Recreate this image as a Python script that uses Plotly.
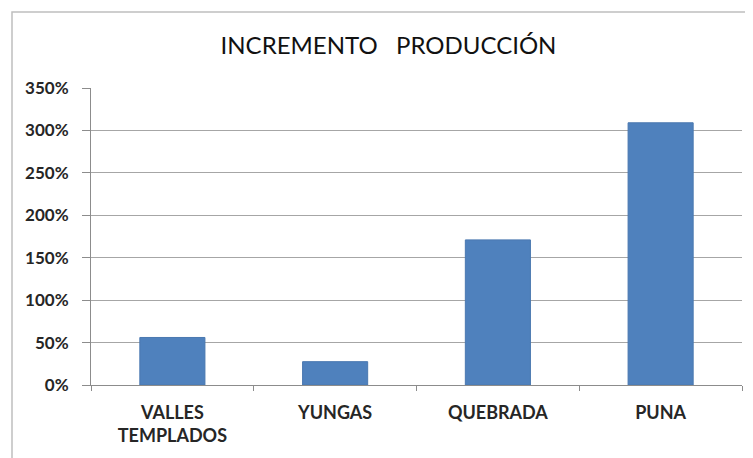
import plotly.graph_objects as go

categories = ["VALLES<br>TEMPLADOS", "YUNGAS", "QUEBRADA", "PUNA"]
values = [0.56, 0.275, 1.71, 3.09]
y_ticks = [0, 0.5, 1.0, 1.5, 2.0, 2.5, 3.0, 3.5]
title_text = "INCREMENTO\u00a0\u00a0 PRODUCCIÓN"

# page has an 8px body margin, so the figure is laid out 8px smaller
W, H = 745, 450
ml, mr, mt, mb = 83, 11, 80, 73
pw, ph = W - ml - mr, H - mt - mb

fig = go.Figure(go.Bar(
    x=categories, y=values,
    marker=dict(color="#4F81BD", line=dict(color="#4A78B0", width=1)),
    width=0.4,
))

def px_to_paper_x(px):
    return (px - ml) / pw

def px_to_paper_y(py):
    return (H - mb - py) / ph

fig.add_shape(type="rect", xref="paper", yref="paper",
              x0=px_to_paper_x(4), x1=px_to_paper_x(770),
              y0=px_to_paper_y(470), y1=px_to_paper_y(4),
              line=dict(color="#BFBFBF", width=1.5), fillcolor="rgba(0,0,0,0)",
              layer="below")

fig.update_layout(
    width=W, height=H,
    margin=dict(l=ml, r=mr, t=mt, b=mb),
    paper_bgcolor="white", plot_bgcolor="white",
    title=dict(text=title_text, x=380.5 / W, xanchor="center", y=1 - 37.5 / H, yanchor="middle",
               font=dict(family="Lato", size=24, color="#111111")),
    showlegend=False,
    font=dict(family="Lato", color="#262626"),
)
fig.update_xaxes(
    showline=True, linecolor="#8C8C8C", linewidth=1,
    ticks="outside", ticklen=5, tickcolor="#8C8C8C", tickson="boundaries",
    tickfont=dict(family="Lato", size=18, color="#262626", weight="bold"),
    ticklabelstandoff=11,
    showgrid=False,
)
fig.update_yaxes(
    range=[0, 3.5], tickvals=y_ticks, tickformat=".0%",
    showline=True, linecolor="#8C8C8C", linewidth=1,
    ticks="outside", ticklen=8, tickcolor="#8C8C8C",
    showgrid=True, gridcolor="#A6A6A6", gridwidth=1,
    tickfont=dict(family="Lato", size=17, color="#262626", weight="bold"),
    ticklabelstandoff=10,
    zeroline=False,
)
fig.write_html("out.html")
